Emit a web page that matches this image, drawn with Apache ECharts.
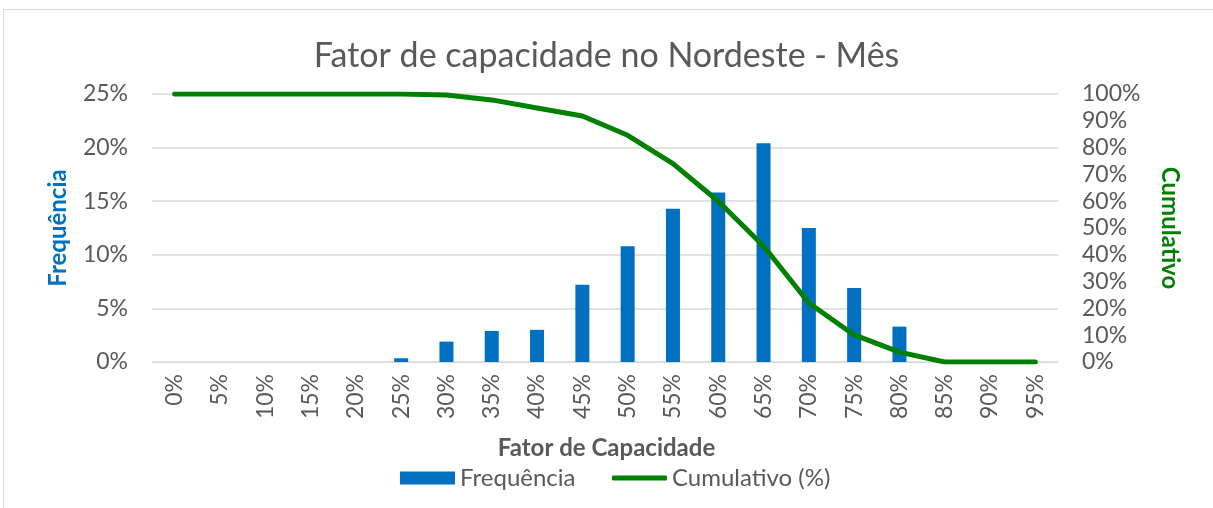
<!DOCTYPE html>
<html>
<head>
<meta charset="utf-8">
<script src="https://cdn.jsdelivr.net/npm/echarts@6/dist/echarts.min.js"></script>
<style>
  html, body { margin: 0; padding: 0; background: #fff; overflow: hidden; }
  #frame { position: absolute; left: 3px; top: 9px; width: 1220px; height: 520px; border: 1px solid #d9d9d9; }
  #chart { position: absolute; left: 0; top: 0; width: 1213px; height: 508px; }
</style>
</head>
<body>
<div id="frame"></div>
<div id="chart"></div>
<script>
// faixas do fator de capacidade
const categories = ['0%', '5%', '10%', '15%', '20%', '25%', '30%', '35%', '40%', '45%',
  '50%', '55%', '60%', '65%', '70%', '75%', '80%', '85%', '90%', '95%']
// frequencia (%)
const frequencia = [0, 0, 0, 0, 0, 0.35, 1.9, 2.9, 3.0, 7.2,
  10.8, 14.3, 15.8, 20.4, 12.5, 6.9, 3.3, 0, 0, 0]
// cumulativo (%)
const cumulativo = [100, 100, 100, 100, 100, 100, 99.6, 97.8, 94.8, 91.8,
  84.6, 74, 60, 43.3, 22, 10.1, 3.7, 0, 0, 0]

const cinza = '#595959'
const fonte = 'Lato'

const chart = echarts.init(document.getElementById('chart'))
chart.setOption({
  animation: false,
  textStyle: { fontFamily: fonte },
  title: {
    text: 'Fator de capacidade no Nordeste - Mês',
    left: 'center',
    top: 34,
    textStyle: { color: cinza, fontSize: 34, fontWeight: 'normal', fontFamily: fonte }
  },
  grid: { left: 152, right: 155, top: 94, bottom: 146 },
  legend: [{
    left: 395,
    top: 461,
    icon: 'rect',
    itemWidth: 55,
    itemHeight: 13,
    itemGap: 0,
    textStyle: { color: cinza, fontSize: 24, fontFamily: fonte },
    data: ['Frequência']
  }, {
    left: 607,
    top: 461,
    icon: 'roundRect',
    itemWidth: 55,
    itemHeight: 5,
    itemGap: 0,
    textStyle: { color: cinza, fontSize: 24, fontFamily: fonte },
    data: ['Cumulativo (%)']
  }],
  graphic: [{
    type: 'text',
    left: 'center',
    top: 436,
    style: { text: 'Fator de Capacidade', fill: cinza, fontSize: 24, fontWeight: 'bold', fontFamily: fonte }
  }],
  xAxis: {
    type: 'category',
    data: categories,
    axisLine: { lineStyle: { color: '#d9d9d9' } },
    axisTick: { show: false },
    axisLabel: { rotate: 90, color: cinza, fontSize: 23, margin: 12 }
  },
  yAxis: [{
    type: 'value',
    min: 0,
    max: 25,
    interval: 5,
    name: 'Frequência',
    nameLocation: 'middle',
    nameGap: 82,
    nameRotate: 90,
    nameTextStyle: { color: '#0070C0', fontSize: 24, fontWeight: 'bold' },
    axisLabel: { formatter: '{value}%', color: cinza, fontSize: 23, margin: 24 },
    splitLine: { lineStyle: { color: '#d9d9d9', width: 1.5 } }
  }, {
    type: 'value',
    min: 0,
    max: 100,
    interval: 10,
    name: 'Cumulativo',
    nameLocation: 'middle',
    nameGap: 100,
    nameRotate: -90,
    nameTextStyle: { color: '#008000', fontSize: 24, fontWeight: 'bold' },
    axisLabel: { formatter: '{value}%', color: cinza, fontSize: 23, margin: 24 },
    splitLine: { show: false }
  }],
  series: [{
    name: 'Frequência',
    type: 'bar',
    data: frequencia,
    barWidth: 14,
    itemStyle: { color: '#0070C0' }
  }, {
    name: 'Cumulativo (%)',
    type: 'line',
    yAxisIndex: 1,
    data: cumulativo,
    symbol: 'none',
    lineStyle: { color: '#008000', width: 5, cap: 'round', join: 'round' },
    itemStyle: { color: '#008000' }
  }]
})
</script>
</body>
</html>
